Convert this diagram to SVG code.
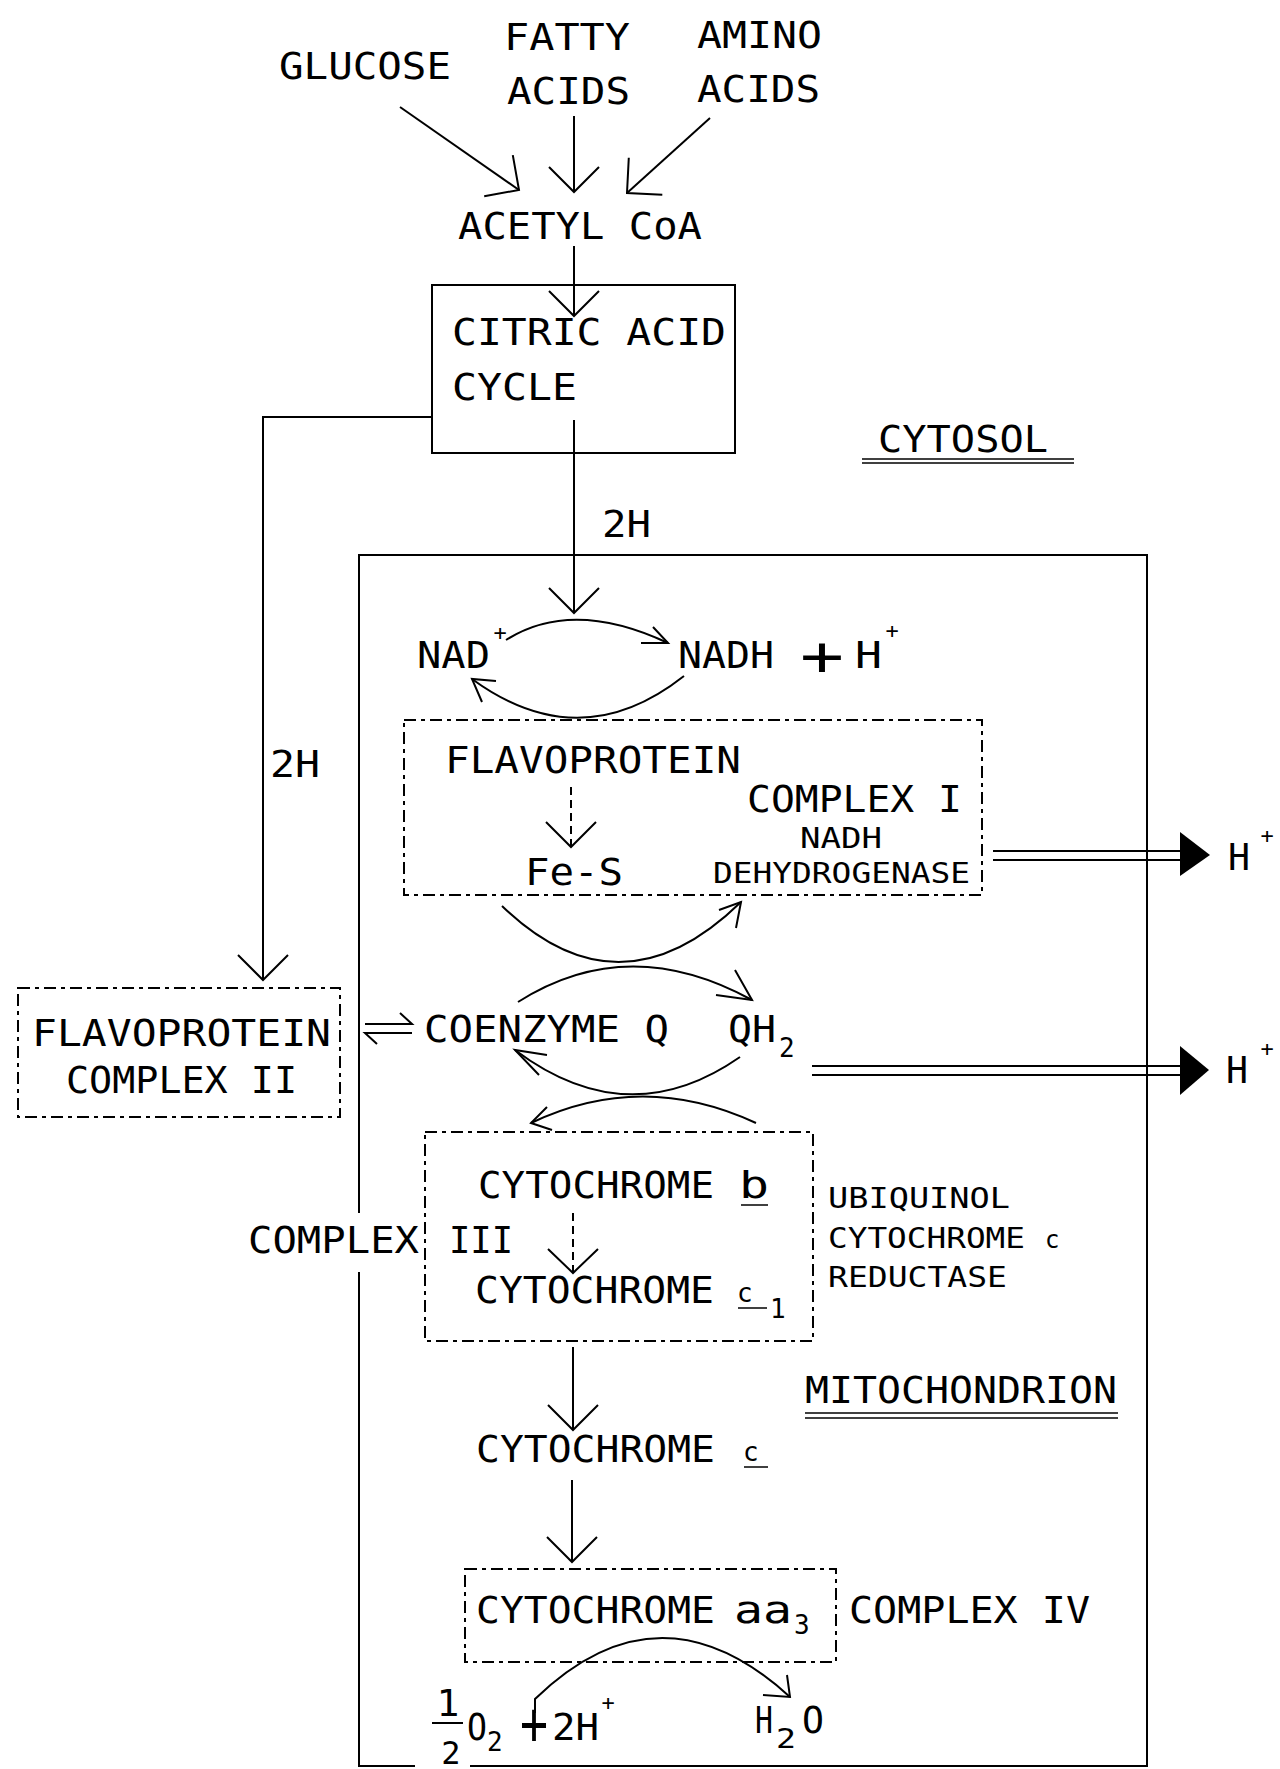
<svg xmlns="http://www.w3.org/2000/svg" width="1280" height="1769" viewBox="0 0 1280 1769">
<style>
.t{font-family:"DejaVu Sans Mono","Liberation Mono",monospace;font-size:38px;fill:#000}
.s{font-family:"DejaVu Sans Mono","Liberation Mono",monospace;font-size:28px;fill:#000}
.sup{font-family:"DejaVu Sans Mono","Liberation Mono",monospace;font-size:22px;fill:#000}
.sub{font-family:"DejaVu Sans Mono","Liberation Mono",monospace;font-size:26px;fill:#000}
.ln{fill:none;stroke:#000;stroke-width:2}
.thin{fill:none;stroke:#000;stroke-width:1.5}
.box{fill:none;stroke:#000;stroke-width:2}
.dbox{fill:none;stroke:#000;stroke-width:2;stroke-dasharray:12 5 4 5}
.dash{fill:none;stroke:#000;stroke-width:2;stroke-dasharray:8 5}
.fillhead{fill:#000;stroke:none}
</style>
<defs>
<marker id="v" viewBox="-27 -27 29 54" refX="0" refY="0" markerWidth="29" markerHeight="54" markerUnits="userSpaceOnUse" orient="auto" overflow="visible">
<path d="M-25,-25 L0,0 L-25,25" fill="none" stroke="#000" stroke-width="2"/>
</marker>
</defs>
<rect width="1280" height="1769" fill="#fff"/>

<g id="connectors">
<line class="ln" x1="400" y1="107" x2="519" y2="190" marker-end="url(#v)"/>
<line class="ln" x1="574" y1="116" x2="574" y2="192" marker-end="url(#v)"/>
<line class="ln" x1="710" y1="118" x2="627" y2="193" marker-end="url(#v)"/>
<line class="ln" x1="574" y1="246" x2="574" y2="316" marker-end="url(#v)"/>
<line class="ln" x1="574" y1="420" x2="574" y2="613" marker-end="url(#v)"/>
<polyline class="ln" points="432,417 263,417 263,980" marker-end="url(#v)"/>
<path class="ln" d="M506,640 Q572,598 668,643"/>
<path class="ln" d="M641,643 L668,643 L653,627"/>
<path class="ln" d="M684,676 Q580,758 472,679"/>
<path class="ln" d="M496,681 L472,679 L482,702"/>
<line class="dash" x1="571" y1="787" x2="571" y2="847"/>
<path class="ln" d="M546,822 L571,847 L596,822"/>
<path class="ln" d="M502,906 Q620,1020 741,902"/>
<path class="ln" d="M719,910 L741,902 L736,928"/>
<path class="ln" d="M518,1002 Q628,932 752,1000"/>
<path class="ln" d="M716,995 L752,1000 L735,970"/>
<path class="ln" d="M740,1057 Q628,1135 515,1050"/>
<path class="ln" d="M547,1055 L515,1050 L539,1075"/>
<path class="ln" d="M756,1123 Q642,1070 531,1123"/>
<path class="ln" d="M552,1130 L531,1123 L547,1107"/>
<path class="ln" d="M365,1024 L412,1024 L400,1013 M412,1033 L365,1033 L377,1044"/>
<line class="ln" x1="993" y1="851" x2="1182" y2="851"/>
<line class="ln" x1="993" y1="860" x2="1182" y2="860"/>
<polygon class="fillhead" points="1180,832 1210,855 1180,876"/>
<line class="ln" x1="812" y1="1066" x2="1182" y2="1066"/>
<line class="ln" x1="812" y1="1075" x2="1182" y2="1075"/>
<polygon class="fillhead" points="1180,1046 1209,1070 1180,1095"/>
<line class="dash" x1="573" y1="1213" x2="573" y2="1273"/>
<path class="ln" d="M548,1249 L573,1273 L598,1249"/>
<line class="ln" x1="573" y1="1347" x2="573" y2="1430" marker-end="url(#v)"/>
<line class="ln" x1="572" y1="1480" x2="572" y2="1562" marker-end="url(#v)"/>
<path class="ln" d="M535,1713 L535,1699 Q660,1578 790,1697"/>
<path class="ln" d="M763,1695 L790,1697 L787,1675"/>
</g>

<g id="inputs">
<text class="t" x="279" y="79" textLength="172" lengthAdjust="spacingAndGlyphs">GLUCOSE</text>
<text class="t" x="504" y="50" textLength="126" lengthAdjust="spacingAndGlyphs">FATTY</text>
<text class="t" x="507" y="104" textLength="123" lengthAdjust="spacingAndGlyphs">ACIDS</text>
<text class="t" x="697" y="48" textLength="125" lengthAdjust="spacingAndGlyphs">AMINO</text>
<text class="t" x="697" y="102" textLength="123" lengthAdjust="spacingAndGlyphs">ACIDS</text>
</g>

<g id="acetyl-coa">
<text class="t" x="458" y="239" textLength="244" lengthAdjust="spacingAndGlyphs">ACETYL CoA</text>
</g>

<g id="citric-acid-cycle">
<rect class="box" x="432" y="285" width="303" height="168"/>
<text class="t" x="452" y="345" textLength="274" lengthAdjust="spacingAndGlyphs">CITRIC ACID</text>
<text class="t" x="452" y="400" textLength="125" lengthAdjust="spacingAndGlyphs">CYCLE</text>
</g>

<g id="cytosol-label">
<text class="t" x="878" y="452" textLength="170" lengthAdjust="spacingAndGlyphs">CYTOSOL</text>
<line class="thin" x1="862" y1="459" x2="1074" y2="459"/>
<line class="thin" x1="862" y1="463" x2="1074" y2="463"/>
</g>

<g id="labels-2h">
<text class="t" x="602" y="537" textLength="49" lengthAdjust="spacingAndGlyphs">2H</text>
<text class="t" x="270" y="777" textLength="50" lengthAdjust="spacingAndGlyphs">2H</text>
</g>

<g id="mitochondrion">
<path class="box" d="M359,1213 L359,555 L1147,555 L1147,1766 L470,1766 M415,1766 L359,1766 L359,1272"/>
<text class="t" x="805" y="1403" textLength="312" lengthAdjust="spacingAndGlyphs">MITOCHONDRION</text>
<line class="thin" x1="805" y1="1413" x2="1118" y2="1413"/>
<line class="thin" x1="805" y1="1418" x2="1118" y2="1418"/>
</g>

<g id="nad">
<text class="t" x="417" y="668" textLength="73" lengthAdjust="spacingAndGlyphs">NAD</text>
<text class="sup" x="500" y="640" text-anchor="middle">+</text>
<text class="t" x="678" y="668" textLength="96" lengthAdjust="spacingAndGlyphs">NADH</text>
<text class="t" x="822" y="675" style="font-size:56px" text-anchor="middle" textLength="44" lengthAdjust="spacingAndGlyphs">+</text>
<text class="t" x="855" y="668" textLength="27" lengthAdjust="spacingAndGlyphs">H</text>
<text class="sup" x="892" y="638" text-anchor="middle">+</text>
</g>

<g id="complex-i">
<rect class="dbox" x="404" y="720" width="578" height="175"/>
<text class="t" x="445" y="773" textLength="296" lengthAdjust="spacingAndGlyphs">FLAVOPROTEIN</text>
<text class="t" x="747" y="812" textLength="215" lengthAdjust="spacingAndGlyphs">COMPLEX I</text>
<text class="s" x="800" y="848" textLength="82" lengthAdjust="spacingAndGlyphs">NADH</text>
<text class="s" x="713" y="883" textLength="257" lengthAdjust="spacingAndGlyphs">DEHYDROGENASE</text>
<text class="t" x="525" y="885" textLength="98" lengthAdjust="spacingAndGlyphs">Fe-S</text>
</g>

<g id="proton-1">
<text class="t" x="1228" y="870" textLength="22" lengthAdjust="spacingAndGlyphs">H</text>
<text class="sup" x="1267" y="843" text-anchor="middle">+</text>
</g>

<g id="proton-2">
<text class="t" x="1226" y="1083" textLength="22" lengthAdjust="spacingAndGlyphs">H</text>
<text class="sup" x="1267" y="1056" text-anchor="middle">+</text>
</g>

<g id="complex-ii">
<rect class="dbox" x="18" y="988" width="322" height="129"/>
<text class="t" x="32" y="1046" textLength="299" lengthAdjust="spacingAndGlyphs">FLAVOPROTEIN</text>
<text class="t" x="66" y="1093" textLength="231" lengthAdjust="spacingAndGlyphs">COMPLEX II</text>
</g>

<g id="coenzyme-q">
<text class="t" x="424" y="1042" textLength="245" lengthAdjust="spacingAndGlyphs">COENZYME Q</text>
<text class="t" x="728" y="1042" textLength="48" lengthAdjust="spacingAndGlyphs">QH</text>
<text class="sub" x="779" y="1057">2</text>
</g>

<g id="complex-iii">
<rect class="dbox" x="425" y="1132" width="388" height="209"/>
<text class="t" x="478" y="1198" textLength="236" lengthAdjust="spacingAndGlyphs">CYTOCHROME</text>
<text class="t" x="739" y="1198" textLength="30" lengthAdjust="spacingAndGlyphs">b</text>
<line class="thin" x1="741" y1="1205" x2="768" y2="1205"/>
<text class="t" x="248" y="1253" textLength="171" lengthAdjust="spacingAndGlyphs">COMPLEX</text>
<text class="t" x="449" y="1253" textLength="64" lengthAdjust="spacingAndGlyphs">III</text>
<text class="t" x="475" y="1303" textLength="239" lengthAdjust="spacingAndGlyphs">CYTOCHROME</text>
<text class="sub" x="737" y="1302">c</text>
<line class="thin" x1="738" y1="1308" x2="767" y2="1308"/>
<text class="sub" x="770" y="1318">1</text>
<text class="s" x="828" y="1208" textLength="182" lengthAdjust="spacingAndGlyphs">UBIQUINOL</text>
<text class="s" x="828" y="1248" textLength="197" lengthAdjust="spacingAndGlyphs">CYTOCHROME</text>
<text class="s" x="1045" y="1248" style="font-size:24px">c</text>
<text class="s" x="828" y="1287" textLength="179" lengthAdjust="spacingAndGlyphs">REDUCTASE</text>
</g>

<g id="cytochrome-c">
<text class="t" x="476" y="1462" textLength="239" lengthAdjust="spacingAndGlyphs">CYTOCHROME</text>
<text class="sub" x="743" y="1461">c</text>
<line class="thin" x1="744" y1="1467" x2="768" y2="1467"/>
</g>

<g id="complex-iv">
<rect class="dbox" x="465" y="1569" width="371" height="93"/>
<text class="t" x="476" y="1623" textLength="239" lengthAdjust="spacingAndGlyphs">CYTOCHROME</text>
<text class="t" x="734" y="1623" textLength="58" lengthAdjust="spacingAndGlyphs">aa</text>
<text class="sub" x="794" y="1634">3</text>
<text class="t" x="849" y="1623" textLength="241" lengthAdjust="spacingAndGlyphs">COMPLEX IV</text>
</g>

<g id="oxygen">
<text class="t" x="448" y="1716" text-anchor="middle">1</text>
<line class="ln" x1="432" y1="1723" x2="463" y2="1723"/>
<text class="t" x="451" y="1764" style="font-size:32px" text-anchor="middle">2</text>
<text class="t" x="467" y="1740" textLength="20" lengthAdjust="spacingAndGlyphs">O</text>
<text class="sub" x="487" y="1751">2</text>
<text class="t" x="534" y="1744" style="font-size:60px" text-anchor="middle" textLength="28" lengthAdjust="spacingAndGlyphs">+</text>
<text class="t" x="552" y="1740" textLength="47" lengthAdjust="spacingAndGlyphs">2H</text>
<text class="sup" x="608" y="1710" text-anchor="middle">+</text>
</g>

<g id="water">
<text class="t" x="755" y="1733" textLength="18" lengthAdjust="spacingAndGlyphs">H</text>
<text class="sub" x="776" y="1748" textLength="20" lengthAdjust="spacingAndGlyphs">2</text>
<text class="t" x="802" y="1733" textLength="22" lengthAdjust="spacingAndGlyphs">O</text>
</g>
</svg>
